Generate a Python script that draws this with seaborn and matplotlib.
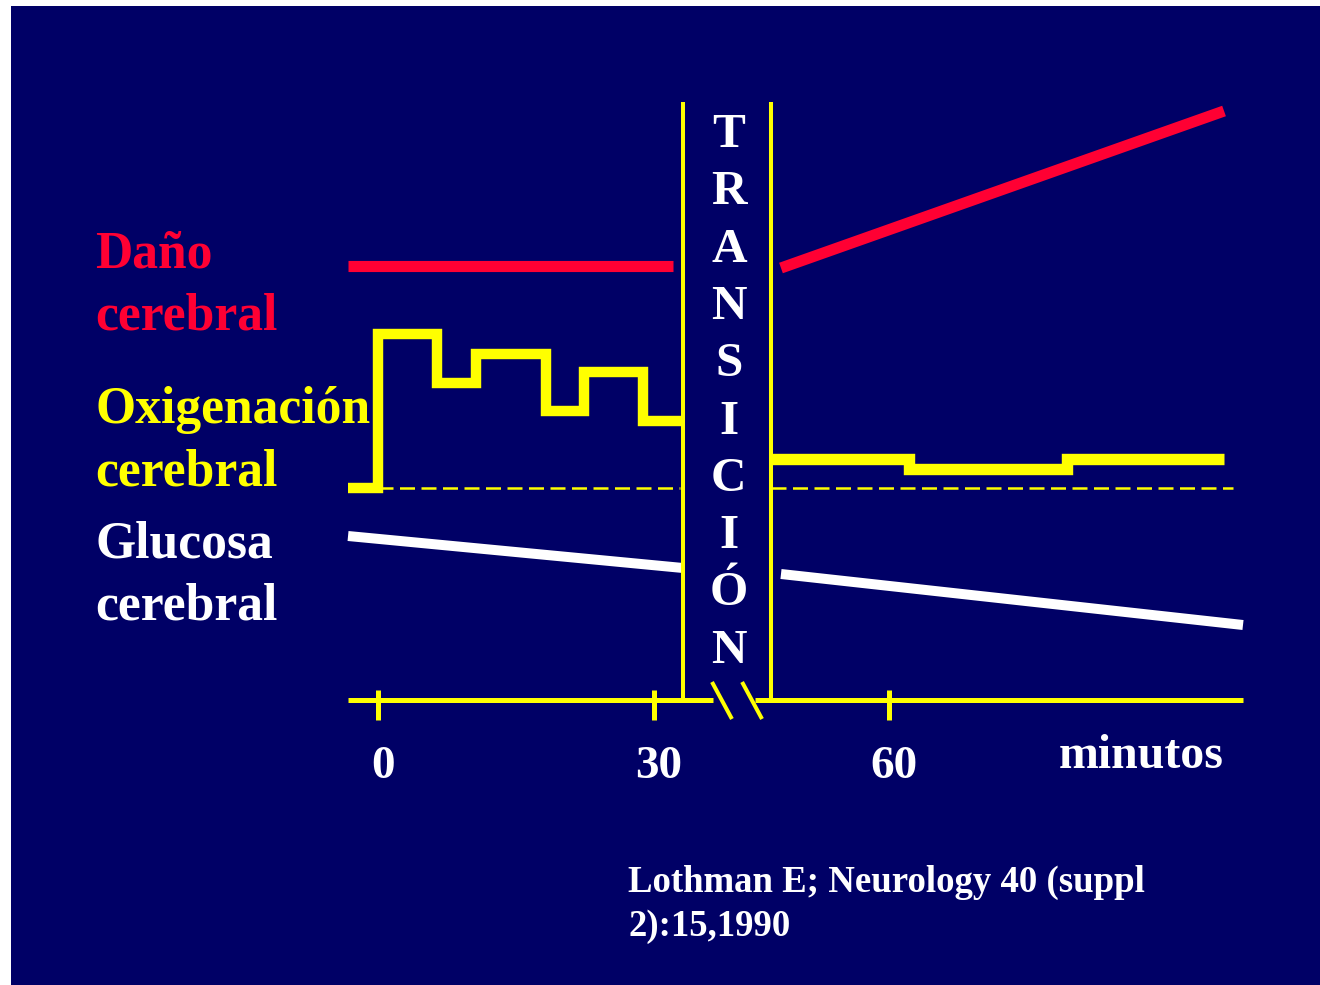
import numpy as np
import pandas as pd
import matplotlib
matplotlib.use("Agg")
import matplotlib.pyplot as plt
from matplotlib.patches import Rectangle
import seaborn as sns

# ---------------------------------------------------------------
# Data: time in minutes, levels relative to the dashed baseline (0)
# ---------------------------------------------------------------
BREAK_START = 33.15      # minutes where the transition band begins
BREAK_END = 47.17        # minutes where the transition band ends
BREAK_GAP = 4.45         # minutes hidden by the axis break

tick_minutes = [0, 30, 60]
tick_labels = ["0", "30", "60"]

# cerebral oxygenation (step trace)
oxy_pre_t = [-3.26, 0.0, 6.41, 10.65, 18.26, 22.39, 28.8, 33.04]
oxy_pre_v = [0.0, 15.4, 10.5, 13.4, 7.7, 11.6, 6.7, 6.7]
oxy_post_t = [47.17, 62.2, 79.3, 96.4]
oxy_post_v = [2.9, 1.9, 2.9, 2.9]

# brain damage
dmg_pre_t = [-3.26, 32.07]
dmg_pre_v = [22.2, 22.2]
dmg_post_t = [48.25, 96.41]
dmg_post_v = [22.0, 37.7]

# cerebral glucose
glu_pre_t = [-3.26, 33.15]
glu_pre_v = [-4.8, -8.0]
glu_post_t = [48.25, 98.47]
glu_post_v = [-8.6, -13.7]

# dashed reference level
base_pre_t = [0.0, 32.8]
base_post_t = [47.17, 97.4]

transition_word = "TRANSICIÓN"

# ---------------------------------------------------------------
NAVY = "#000066"
RED = "#FF0033"
YELLOW = "#FFFF00"
WHITE = "#FFFFFF"

W, H = 1320, 985
sns.set_theme(style="white", rc={"figure.dpi": 100, "savefig.dpi": 100})
plt.rcParams["font.family"] = ["Liberation Serif", "DejaVu Serif"]


def to_axis(m):
    """Map minutes to the compressed (broken) axis position."""
    m = np.asarray(m, dtype=float)
    return np.interp(m, [-100, BREAK_START, BREAK_END, 300],
                     [-100, BREAK_START, BREAK_END - BREAK_GAP, 300 - BREAK_GAP])


def px(x, y):
    """Figure-pixel position (origin top-left) to figure fraction."""
    return x / W, 1 - y / H


fig = plt.figure(figsize=(W / 100, H / 100), dpi=100)
fig.patch.set_facecolor("white")
fig.add_artist(Rectangle((11 / W, 0), (W - 11) / W, (H - 6) / H,
                         transform=fig.transFigure, facecolor=NAVY,
                         edgecolor="none", zorder=-10))

ax = fig.add_axes([0, 0, 1, 1])
ax.set_zorder(5)
ax.patch.set_alpha(0)
ax.set_xlim(-41.09, 102.39)
ax.set_ylim(-49.7, 48.8)
ax.axis("off")


def trace(t, v, color, lw, **kw):
    df = pd.DataFrame({"t": to_axis(t), "v": v})
    sns.lineplot(data=df, x="t", y="v", ax=ax, color=color, linewidth=lw,
                 estimator=None, sort=False, legend=False,
                 solid_capstyle="butt", solid_joinstyle="miter", **kw)


# dashed baseline
for t in (base_pre_t, base_post_t):
    df = pd.DataFrame({"t": to_axis(t), "v": [0.0, 0.0]})
    sns.lineplot(data=df, x="t", y="v", ax=ax, color=YELLOW, linewidth=1.8,
                 estimator=None, legend=False,
                 linestyle=(0, (6, 2.6)), dash_capstyle="butt")

# series
trace(dmg_pre_t, dmg_pre_v, RED, 8.0)
trace(dmg_post_t, dmg_post_v, RED, 8.0)
trace(glu_pre_t, glu_pre_v, WHITE, 7.2)
trace(glu_post_t, glu_post_v, WHITE, 7.2)
trace(oxy_pre_t, oxy_pre_v, YELLOW, 7.5, drawstyle="steps-post")
trace(oxy_post_t, oxy_post_v, YELLOW, 8.2, drawstyle="steps-post")

# transition band edges
y_axis = -21.2
band_l, band_r = to_axis([BREAK_START, BREAK_END])
ax.vlines([band_l, band_r], y_axis, 38.6, color=YELLOW, linewidth=2.9, zorder=3)

# broken time axis
ax.plot([to_axis(-3.26), band_l + 3.25], [y_axis, y_axis], color=YELLOW,
        linewidth=3.6, solid_capstyle="butt", zorder=3)
ax.plot([band_r - 1.74, to_axis(98.47)], [y_axis, y_axis], color=YELLOW,
        linewidth=3.6, solid_capstyle="butt", zorder=3)
for dx in (3.15, 6.42):
    ax.plot([band_l + dx, band_l + dx + 2.17], [-19.4, -23.1], color=YELLOW,
            linewidth=2.9, solid_capstyle="butt", zorder=3)
tick_pos = to_axis(tick_minutes)
ax.vlines(tick_pos, -20.2, -23.2, color=YELLOW, linewidth=3.6, zorder=3)

bold = dict(fontweight="bold")
for p, lab in zip(tick_pos, tick_labels):
    ax.text(p + 0.5, -29.0, lab, color=WHITE, fontsize=34, ha="center",
            va="baseline", **bold)
fig.text(*px(1059, 768), "minutos", color=WHITE, fontsize=34.5, ha="left",
         va="baseline", **bold)

# vertical word inside the transition band
mid = (band_l + band_r) / 2 + 0.2
for i, ch in enumerate(transition_word):
    ax.text(mid, (488 - (147 + i * 57.3)) / 10, ch, color=WHITE, fontsize=35.5,
            ha="center", va="baseline", **bold)

# series labels
labels = [("Daño", 267, RED), ("cerebral", 329, RED),
          ("Oxigenación", 423, YELLOW), ("cerebral", 485, YELLOW),
          ("Glucosa", 557, WHITE), ("cerebral", 619, WHITE)]
for txt, yb, col in labels:
    fig.text(*px(95.5, yb), txt, color=col, fontsize=37.2, ha="left",
             va="baseline", **bold)

# reference
fig.text(*px(628, 892), "Lothman E; Neurology 40 (suppl", color=WHITE,
         fontsize=26.5, ha="left", va="baseline", **bold)
fig.text(*px(628, 936), "2):15,1990", color=WHITE, fontsize=26.5,
         ha="left", va="baseline", **bold)

fig.savefig("out.png", dpi=100, facecolor=fig.get_facecolor())
